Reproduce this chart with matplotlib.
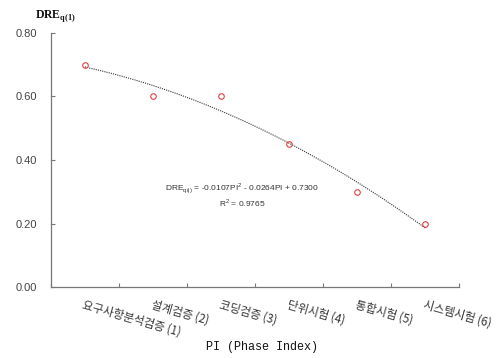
import numpy as np
import matplotlib
matplotlib.use("Agg")
import matplotlib.pyplot as plt

categories = ["요구사항분석검증 (1)", "설계검증 (2)", "코딩검증 (3)", "단위시험 (4)", "통합시험 (5)", "시스템시험 (6)"]
pi = [1, 2, 3, 4, 5, 6]
dre = [0.70, 0.60, 0.60, 0.45, 0.30, 0.20]
coef = [-0.0107, -0.0264, 0.7300]  # trendline from the chart
yticks = [0.0, 0.2, 0.4, 0.6, 0.8]

plt.rcParams['font.family'] = ['Noto Sans CJK KR', 'DejaVu Sans']

fig = plt.figure(figsize=(4.99, 3.58), dpi=100)
ax = fig.add_axes([0.102, 0.198, 0.818, 0.71])

xs = np.linspace(pi[0], pi[-1], 200)
ax.plot(xs, np.polyval(coef, xs), linestyle=(0, (1, 1)), color="#333333", linewidth=0.8)
ax.plot(pi, dre, linestyle="none", marker="o", markersize=4, markerfacecolor="none",
        markeredgecolor="#e04040", markeredgewidth=0.8)

ax.set_xlim(0.5, 6.5)
ax.set_ylim(0, 0.8)
ax.set_yticks(yticks)
ax.set_yticklabels([f"{v:.2f}" for v in yticks], fontsize=8, color="#444444", family=["Liberation Sans"])
ax.set_xticks(np.arange(0.5, 7.0, 1.0))
ax.set_xticklabels([])
for s in ["top", "right"]:
    ax.spines[s].set_visible(False)
for s in ["left", "bottom"]:
    ax.spines[s].set_color("#777777")
    ax.spines[s].set_linewidth(0.9)
ax.tick_params(axis="both", direction="in", length=3, color="#777777", pad=10)

for x, lab in zip(pi, categories):
    ax.text(x, -0.035, lab, rotation=-16, rotation_mode="anchor", ha="left", va="top",
            fontsize=8.3, color="#333333", transform=ax.transData, clip_on=False)

fig.text(0.525, 0.03, "PI (Phase Index)", ha="center", va="center", fontsize=8.5,
         family=["Liberation Mono"], color="#111111")
fig.text(0.07, 0.955, r"DRE$_{\mathregular{q(1)}}$", ha="left", va="center", fontsize=8.5,
         family=["Liberation Serif"], fontweight="bold", color="#111111")

ax.text(3.31, 0.31, r"DRE$_{\mathregular{q(i)}}$ = -0.0107PI$^{\mathregular{2}}$ - 0.0264PI + 0.7300",
        ha="center", va="center", fontsize=6, family=["Liberation Sans"], color="#333333")
ax.text(3.31, 0.265, r"R$^{\mathregular{2}}$ = 0.9765", ha="center", va="center", fontsize=6,
        family=["Liberation Sans"], color="#333333")

fig.savefig("out.png", dpi=100)
